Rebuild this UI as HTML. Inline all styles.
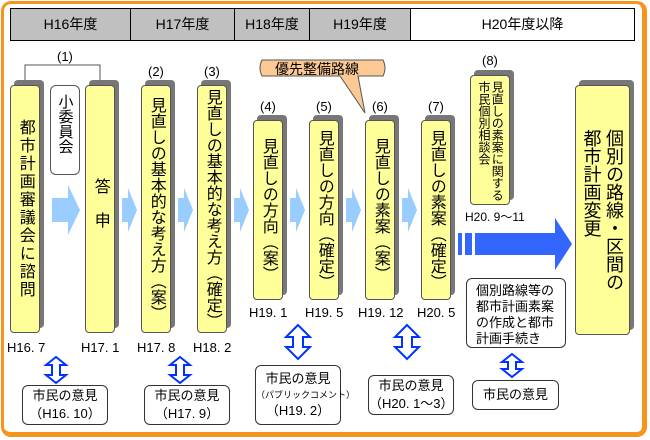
<!DOCTYPE html>
<html><head><meta charset="utf-8"><style>
*{margin:0;padding:0;box-sizing:border-box}
body{width:650px;height:440px;background:#fff;position:relative;overflow:hidden;font-family:"Liberation Sans","Noto Sans CJK JP",sans-serif;color:#000}
.a{position:absolute}
.frame{left:1px;top:1px;width:646px;height:436px;border:3px solid #f7941d;border-radius:10px;border-right-width:5px;border-bottom-width:5px}
.hd{top:8px;height:33px;border:1px solid #000;background:#c0c0c0;font-size:14px;line-height:31px;text-align:center}
.y{background:#ffff99;border:1px solid #555;border-radius:4px;box-shadow:4px -5px 0 #777;writing-mode:vertical-rl;font-size:16px;display:flex;align-items:center;justify-content:center;line-height:1.1}
.w{background:#fff;border:1px solid #555;border-radius:6px}
.lb{font-size:13px}
.dt{font-size:13px;white-space:nowrap}
.cz{background:#fff;border:1px solid #333;border-radius:6px;text-align:center;font-size:13px;line-height:18px;display:flex;flex-direction:column;justify-content:center;white-space:nowrap}
</style></head><body>
<div class="a frame"></div>
<div class="a hd" style="left:10px;width:121px">H16年度</div>
<div class="a hd" style="left:130px;width:105px">H17年度</div>
<div class="a hd" style="left:234px;width:76px">H18年度</div>
<div class="a hd" style="left:309px;width:102px">H19年度</div>
<div class="a hd" style="left:410px;width:225px;background:#fff">H20年度以降</div>

<svg class="a" style="left:0;top:0" width="650" height="440">
<polyline points="25,85 25,65 100,65 100,85" fill="none" stroke="#555" stroke-width="1"/>
<g fill="#99ccff">
<polygon points="52,198 68,198 68,185 80,210 68,235 68,222 52,222"/>
<polygon points="122,198 128,198 128,188 137,210 128,232 128,222 122,222"/>
<polygon points="178,198 184,198 184,188 193,210 184,232 184,222 178,222"/>
<polygon points="234,198 240,198 240,188 249,210 240,232 240,222 234,222"/>
<polygon points="290,198 296,198 296,188 305,210 296,232 296,222 290,222"/>
<polygon points="346,198 352,198 352,188 361,210 352,232 352,222 346,222"/>
<polygon points="402,198 408,198 408,188 417,210 408,232 408,222 402,222"/>
</g>
<g fill="#3366ff">
<rect x="458" y="233" width="4" height="22"/><rect x="465" y="233" width="7" height="22"/><rect x="475" y="233" width="80" height="22"/>
<polygon points="555,218 572,244 555,270"/>
</g>
<path d="M262,60 Q258,68 262,76 L340,76 L365,113 L358,76 L383,76 Q387,68 383,60 Z" fill="#fcc995" stroke="#555"/>
<g fill="#fff" stroke="#0033ff" stroke-width="2">
<polygon points="56,357 46,365 52,365 52,375 46,375 56,383 66,375 60,375 60,365 66,365"/>
<polygon points="180,357 170,365 176,365 176,375 170,375 180,383 190,375 184,375 184,365 190,365"/>
<polygon points="298,325 286,337 293,337 293,347 286,347 298,359 310,347 303,347 303,337 310,337"/>
<polygon points="407,325 395,337 402,337 402,347 395,347 407,359 419,347 412,347 412,337 419,337"/>
<polygon points="512,354 502,362 508,362 508,369 502,369 512,377 522,369 516,369 516,362 522,362"/>
</g>
</svg>
<div class="a" style="left:275px;top:59px;font-size:14px">優先整備路線</div>

<div class="a lb" style="left:57px;top:49px">(1)</div>
<div class="a lb" style="left:148px;top:64px">(2)</div>
<div class="a lb" style="left:204px;top:64px">(3)</div>
<div class="a lb" style="left:260px;top:99px">(4)</div>
<div class="a lb" style="left:316px;top:99px">(5)</div>
<div class="a lb" style="left:372px;top:99px">(6)</div>
<div class="a lb" style="left:428px;top:99px">(7)</div>
<div class="a lb" style="left:482px;top:53px">(8)</div>

<div class="a y" style="left:10px;top:85px;width:30px;height:248px;letter-spacing:2px">都市計画審議会に諮問</div>
<div class="a w" style="left:50px;top:85px;width:30px;height:90px;writing-mode:vertical-rl;font-size:15px;display:flex;align-items:center;justify-content:flex-start;padding-top:8px">小委員会</div>
<div class="a y" style="left:85px;top:85px;width:30px;height:248px;justify-content:flex-start;padding-top:92px;letter-spacing:18px">答申</div>
<div class="a y" style="left:141px;top:85px;width:30px;height:248px">見直しの基本的な考え方（案）</div>
<div class="a y" style="left:197px;top:85px;width:30px;height:248px">見直しの基本的な考え方（確定）</div>
<div class="a y" style="left:253px;top:120px;width:30px;height:180px">見直しの方向（案）</div>
<div class="a y" style="left:309px;top:120px;width:30px;height:180px">見直しの方向（確定）</div>
<div class="a y" style="left:365px;top:120px;width:30px;height:180px">見直しの素案（案）</div>
<div class="a y" style="left:421px;top:120px;width:30px;height:180px">見直しの素案（確定）</div>
<div class="a y" style="left:470px;top:75px;width:40px;height:130px;font-size:12px;align-items:center;justify-content:flex-start;padding-top:5px;line-height:1.1;white-space:nowrap">見直しの素案に関する<br>市民個別相談会</div>
<div class="a y" style="left:575px;top:85px;width:55px;height:250px;font-size:18px;line-height:1.25;justify-content:center">個別の路線・区間の<br>都市計画変更</div>

<div class="a dt" style="left:7px;top:340px">H16. 7</div>
<div class="a dt" style="left:81px;top:340px">H17. 1</div>
<div class="a dt" style="left:137px;top:340px">H17. 8</div>
<div class="a dt" style="left:193px;top:340px">H18. 2</div>
<div class="a dt" style="left:249px;top:305px">H19. 1</div>
<div class="a dt" style="left:305px;top:305px">H19. 5</div>
<div class="a dt" style="left:358px;top:305px">H19. 12</div>
<div class="a dt" style="left:417px;top:305px">H20. 5</div>
<div class="a dt" style="left:465px;top:208px;font-size:12px">H20. 9～11</div>

<div class="a w" style="left:466px;top:278px;width:100px;height:70px;border-color:#333;font-size:13px;line-height:16px;padding:4px 0 0 9px">個別路線等の<br>都市計画素案<br>の作成と都市<br>計画手続き</div>

<div class="a cz" style="left:22px;top:385px;width:86px;height:40px">市民の意見<span>（H16. 10）</span></div>
<div class="a cz" style="left:144px;top:385px;width:86px;height:40px">市民の意見<span>（H17. 9）</span></div>
<div class="a cz" style="left:255px;top:365px;width:86px;height:60px">市民の意見<span style="font-size:9px;line-height:14px">（パブリックコメント）</span><span>（H19. 2）</span></div>
<div class="a cz" style="left:368px;top:375px;width:86px;height:40px">市民の意見<span>（H20. 1～3）</span></div>
<div class="a cz" style="left:472px;top:380px;width:87px;height:30px">市民の意見</div>
</body></html>
